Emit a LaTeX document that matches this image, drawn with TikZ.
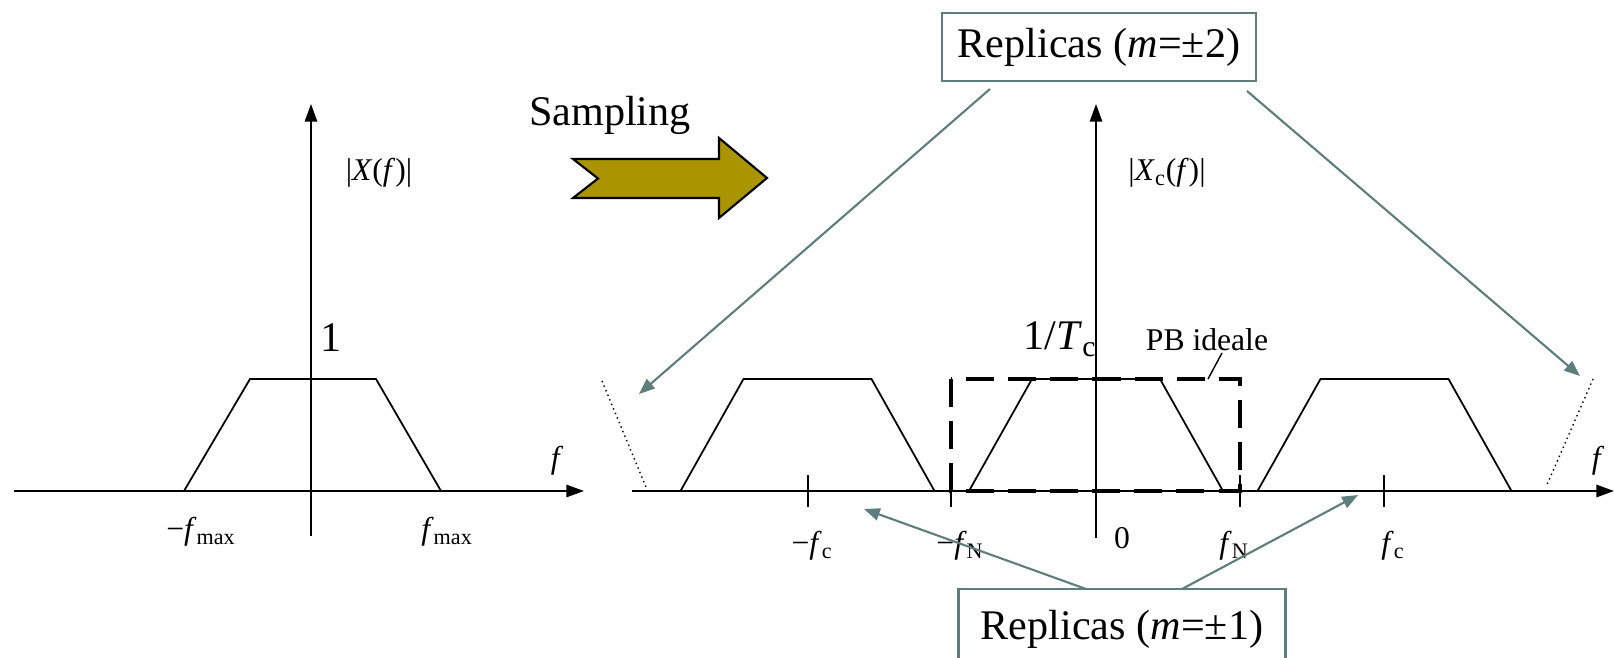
\documentclass[tikz,border=0pt]{standalone}
\usepackage{fontspec}
\setmainfont{Liberation Serif}
\usetikzlibrary{arrows.meta,positioning}
\definecolor{replicagray}{RGB}{94,125,125}
\definecolor{samplingfill}{RGB}{170,148,0}

\begin{document}
\begin{tikzpicture}[x=0.02cm,y=-0.02cm,>={Triangle[length=10pt,width=7pt]}]
  \tikzstyle{axis}=[line width=1.1pt,->]
  \tikzstyle{spec}=[line width=1pt]
  \tikzstyle{tick}=[line width=0.8pt]
  \tikzstyle{pbbox}=[line width=2pt,dash pattern=on 16pt off 8pt]
  \tikzstyle{lbl}=[inner sep=0pt,font=\fontsize{18}{20}\selectfont]
  \tikzstyle{biglbl}=[inner sep=0pt,font=\fontsize{24}{28}\selectfont]
  \tikzstyle{replica}=[draw=replicagray,line width=1.2pt,minimum height=1.35cm,font=\fontsize{24}{28}\selectfont]
  \tikzstyle{pointer}=[draw=replicagray,line width=1.2pt,-{Triangle[length=9pt,width=7pt]}]
  \useasboundingbox (0,0) rectangle (1614,658);
  \node[biglbl,anchor=base] (samp) at (610,126) {Sampling};
  \draw[line width=1.2pt,fill=samplingfill] (573,159) -- (719,159) -- (719,138) -- (767,178) -- (719,218) -- (719,198) -- (573,198) -- (598,178.5) -- cycle;
  \coordinate (l0) at (14,491);
  \coordinate (l1) at (584,491);
  \coordinate (lb) at (311,536);
  \coordinate (lt) at (311,104);
  \draw[axis] (l0) -- (l1);
  \draw[axis] (lb) -- (lt);
  \draw[spec] (184,491) -- (250,379) -- (376,379) -- (441,491);
  \node[lbl] (xf) at (379,173) {|\textit{X}(\textit{f})|};
  \node[biglbl,anchor=base] (one) at (331,352) {1};
  \node[lbl] (fl) at (557,461) {\textit{f}};
  \node[lbl] (mfmax) at (201,532) {−\textit{f}\textsubscript{max}};
  \node[lbl] (fmax) at (447,532) {\textit{f}\textsubscript{max}};
  \coordinate (r0) at (632,491);
  \coordinate (r1) at (1614,491);
  \coordinate (rb) at (1096,538);
  \coordinate (rt) at (1096,104);
  \draw[axis] (r0) -- (r1);
  \draw[axis] (rb) -- (rt);
  \foreach \c in {807.5,1096,1384.5}
    \draw[spec] (\c-127,491) -- (\c-64,379) -- (\c+64,379) -- (\c+127,491);
  \draw[dotted,line width=0.8pt] (602,381) -- (646,487);
  \draw[dotted,line width=0.8pt] (1593,379) -- (1546,487);
  \foreach \t in {808,951,1240,1384}
    \draw[tick] (\t,475) -- (\t,507);
  \draw[pbbox] (951,379) rectangle (1240,491);
  \node[lbl] (xcf) at (1167,173) {|\textit{X}\textsubscript{c}(\textit{f})|};
  \node[biglbl,anchor=base] (invt) at (1060,350) {1/\textit{T}\textsubscript{c}};
  \node[lbl] (pb) at (1207,340) {PB ideale};
  \coordinate (pbfoot) at (1222,353);
  \coordinate (pbend) at (1208,379);
  \draw[tick] (pbfoot) -- (pbend);
  \node[lbl] (fr) at (1598,461) {\textit{f}};
  \node[lbl] (mfc) at (812,546) {−\textit{f}\textsubscript{c}};
  \node[lbl] (mfn) at (960,546) {−\textit{f}\textsubscript{N}};
  \node[lbl] (zero) at (1122,538) {0};
  \node[lbl] (fn) at (1234,546) {\textit{f}\textsubscript{N}};
  \node[lbl] (fc) at (1393,546) {\textit{f}\textsubscript{c}};
  \node[replica,minimum width=6.28cm] (rep2) at (1099,47) {Replicas (\textit{m}=±2)};
  \node[replica,minimum width=6.54cm,minimum height=1.6cm] (rep1) at (1122,629) {Replicas (\textit{m}=±1)};
  \coordinate (s2a) at (990,89);
  \coordinate (t2a) at (639,394);
  \coordinate (s2b) at (1247,91);
  \coordinate (t2b) at (1580,376);
  \coordinate (s1a) at (1086,589);
  \coordinate (t1a) at (864,509);
  \coordinate (s1b) at (1182,589);
  \coordinate (t1b) at (1358,495);
  \draw[pointer] (s2a) -- (t2a);
  \draw[pointer] (s2b) -- (t2b);
  \draw[pointer] (s1a) -- (t1a);
  \draw[pointer] (s1b) -- (t1b);
\end{tikzpicture}
\end{document}
